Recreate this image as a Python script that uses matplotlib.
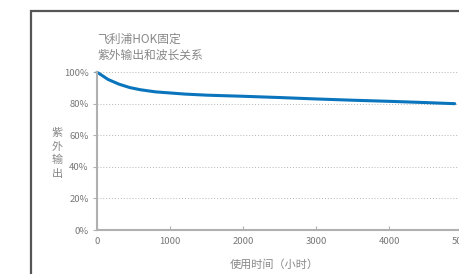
import matplotlib
matplotlib.use('Agg')
import matplotlib.pyplot as plt
from matplotlib.patches import Rectangle

plt.rcParams['font.family'] = ['Noto Sans CJK SC', 'DejaVu Sans']

hours = [0, 50, 150, 300, 450, 600, 800, 1000, 1200, 1500, 2000, 2500, 3000, 3500, 4000, 4500, 4900]
uv_output = [100, 98.6, 95.5, 92.5, 90.3, 88.9, 87.6, 86.9, 86.2, 85.5, 84.8, 84.0, 83.1, 82.3, 81.6, 80.8, 80.1]
x_ticks = [0, 1000, 2000, 3000, 4000, 5000]
y_ticks = [0, 20, 40, 60, 80, 100]
y_tick_labels = ['0%', '20%', '40%', '60%', '80%', '100%']
y_label_chars = ['紫', '外', '输', '出']

W, H = 459, 274
fig = plt.figure(figsize=(W / 100, H / 100), dpi=100)

# outer frame, cut off on the right and bottom
fig.patches.append(Rectangle((30.5 / W, -0.2), 1.0, 1 - 11 / H + 0.2, transform=fig.transFigure,
                             fill=False, edgecolor='#555555', linewidth=1.6))

ax = fig.add_axes([97 / W, 44 / H, 365 / W, 157.7 / H])
ax.plot(hours, uv_output, color='#0a74bc', linewidth=2.2, solid_capstyle='round', clip_on=False)
ax.set_xlim(0, 5000)
ax.set_ylim(0, 100)
ax.set_xticks(x_ticks)
ax.set_yticks(y_ticks)
ax.set_yticklabels(y_tick_labels)
ax.grid(axis='y', linestyle=(0, (1, 2)), color='#b4b4b4', linewidth=0.7)
ax.set_axisbelow(True)
for s in ['top', 'right']:
    ax.spines[s].set_visible(False)
for s in ['left', 'bottom']:
    ax.spines[s].set_color('#b0b0b0')
    ax.spines[s].set_linewidth(1.5)
ax.tick_params(axis='x', direction='in', length=3, color='#b0b0b0', labelsize=6.8, labelcolor='#777777', pad=5)
ax.tick_params(axis='y', direction='out', length=3, color='#b0b0b0', labelsize=6.8, labelcolor='#777777', pad=3)

fig.text(97 / W, 1 - 39 / H, '飞利浦HOK固定', fontsize=8.5, color='#888888', va='center', ha='left')
fig.text(97 / W, 1 - 55 / H, '紫外输出和波长关系', fontsize=8.5, color='#888888', va='center', ha='left')
for i, ch in enumerate(y_label_chars):
    fig.text(57 / W, 1 - (133 + i * 13.5) / H, ch, fontsize=8, color='#888888', va='center', ha='center')
fig.text(274 / W, 1 - 265 / H, '使用时间（小时）', fontsize=8, color='#888888', va='center', ha='center')

fig.savefig('out.png', dpi=100)
